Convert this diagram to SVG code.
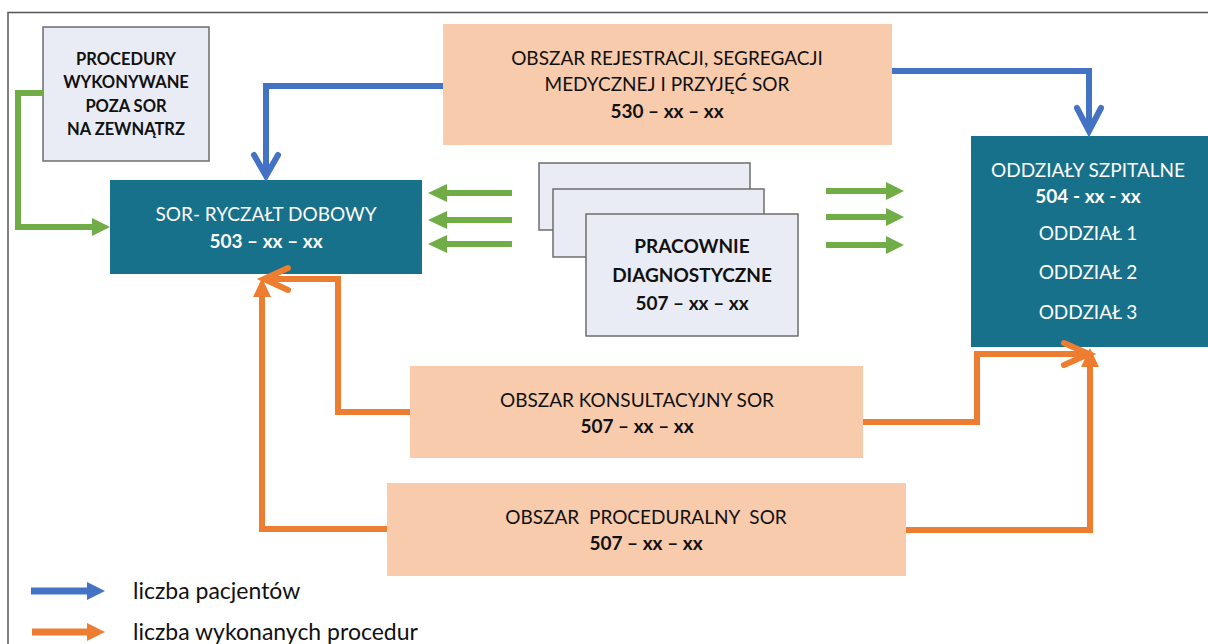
<svg xmlns="http://www.w3.org/2000/svg" width="1208" height="644" viewBox="0 0 1208 644">
<style>
.t{font-family:Lato,"Liberation Sans",sans-serif;font-size:19px;text-anchor:middle}
.s{font-size:16.5px}
.w{fill:#ffffff}
.k{fill:#111111}
.b{font-weight:bold}
.teal{fill:#18718b}
.peach{fill:#f8cbad}
.lav{fill:#e9ebf5;stroke:#6e6e6e;stroke-width:1.5}
.bl{fill:none;stroke:#4472c4;stroke-width:6}
.or{fill:none;stroke:#ed7d31;stroke-width:6}
.gr{fill:none;stroke:#70ad47;stroke-width:6}
.leg{font-family:Lato,"Liberation Sans",sans-serif;font-size:23px;fill:#111111}
</style>
<rect x="0" y="0" width="1208" height="644" fill="#ffffff"/>
<path d="M8 644 V12.5 H1208" fill="none" stroke="#555555" stroke-width="1.5"/>

<g id="procedury">
<rect class="lav" x="43" y="27" width="166" height="134"/>
<text class="t s k b" x="126" y="65">PROCEDURY</text>
<text class="t s k b" x="126" y="88">WYKONYWANE</text>
<text class="t s k b" x="126" y="112">POZA SOR</text>
<text class="t s k b" x="126" y="135">NA ZEWNĄTRZ</text>
</g>

<g id="sor">
<rect class="teal" x="110" y="180" width="312" height="94"/>
<text class="t w" x="266" y="221">SOR- RYCZAŁT DOBOWY</text>
<text class="t w b" x="266" y="248">503 – xx – xx</text>
</g>

<g id="rejestracja">
<rect class="peach" x="443" y="24" width="449" height="121"/>
<text class="t k" x="667" y="65">OBSZAR REJESTRACJI, SEGREGACJI</text>
<text class="t k" x="667" y="91">MEDYCZNEJ I PRZYJĘĆ SOR</text>
<text class="t k b" x="667" y="118">530 – xx – xx</text>
</g>

<g id="oddzialy">
<rect class="teal" x="971" y="136" width="237" height="211"/>
<text class="t w" x="1088" y="177">ODDZIAŁY SZPITALNE</text>
<text class="t w b" x="1088" y="203">504 - xx - xx</text>
<text class="t w" x="1088" y="240">ODDZIAŁ 1</text>
<text class="t w" x="1088" y="279">ODDZIAŁ 2</text>
<text class="t w" x="1088" y="319">ODDZIAŁ 3</text>
</g>

<g id="pracownie">
<rect class="lav" x="539" y="163" width="211" height="67"/>
<rect class="lav" x="553" y="189" width="211" height="68"/>
<rect class="lav" x="586" y="214" width="212" height="122"/>
<text class="t k b" x="692" y="253">PRACOWNIE</text>
<text class="t k b" x="692" y="282">DIAGNOSTYCZNE</text>
<text class="t k b" x="692" y="310">507 – xx – xx</text>
</g>

<g id="konsultacyjny">
<rect class="peach" x="410" y="366" width="453" height="92"/>
<text class="t k" x="637" y="407">OBSZAR KONSULTACYJNY SOR</text>
<text class="t k b" x="637" y="433">507 – xx – xx</text>
</g>

<g id="proceduralny">
<rect class="peach" x="387" y="483" width="519" height="93"/>
<text class="t k" x="646" y="524" xml:space="preserve">OBSZAR  PROCEDURALNY  SOR</text>
<text class="t k b" x="646" y="550">507 – xx – xx</text>
</g>

<g id="connectors">
<polyline class="bl" points="443,86 266,86 266,176"/>
<polyline class="bl" points="254,155 266,176 278,155" stroke-linecap="round"/>
<polyline class="bl" points="892,71 1089,71 1089,131"/>
<polyline class="bl" points="1077,108 1089,131 1101,108" stroke-linecap="round"/>
<polyline class="gr" points="43,93 18,93 18,227 94,227"/>
<polygon fill="#70ad47" points="92,218 110,227 92,236"/>
<line class="gr" x1="512" y1="193" x2="445" y2="193"/>
<polygon fill="#70ad47" points="447,184 428,193 447,202"/>
<line class="gr" x1="512" y1="220" x2="445" y2="220"/>
<polygon fill="#70ad47" points="447,211 428,220 447,229"/>
<line class="gr" x1="512" y1="244" x2="445" y2="244"/>
<polygon fill="#70ad47" points="447,235 428,244 447,253"/>
<line class="gr" x1="826" y1="191" x2="888" y2="191"/>
<polygon fill="#70ad47" points="886,182 904,191 886,200"/>
<line class="gr" x1="826" y1="217" x2="888" y2="217"/>
<polygon fill="#70ad47" points="886,208 904,217 886,226"/>
<line class="gr" x1="826" y1="245" x2="888" y2="245"/>
<polygon fill="#70ad47" points="886,236 904,245 886,254"/>
<polyline class="or" points="410,412 338,412 338,279 266,279"/>
<polyline class="or" points="288,268 264,279 288,290" stroke-linecap="round"/>
<polyline class="or" points="387,529 262,529 262,295"/>
<polygon fill="#ed7d31" points="253,297 262,278 271,297"/>
<polyline class="or" points="863,422 977,422 977,354 1086,354"/>
<polyline class="or" points="1064,343 1089,354 1064,365" stroke-linecap="round"/>
<polyline class="or" points="906,530 1090,530 1090,365"/>
<polygon fill="#ed7d31" points="1081,367 1090,348 1099,367"/>
</g>

<g id="legend">
<line x1="31" y1="591" x2="89" y2="591" stroke="#4472c4" stroke-width="7"/>
<polygon fill="#4472c4" points="87,582 105,591 87,600"/>
<text class="leg" x="133" y="599">liczba pacjentów</text>
<line x1="32" y1="632" x2="89" y2="632" stroke="#ed7d31" stroke-width="7"/>
<polygon fill="#ed7d31" points="87,623 105,632 87,641"/>
<text class="leg" x="133" y="640">liczba wykonanych procedur</text>
</g>
</svg>
